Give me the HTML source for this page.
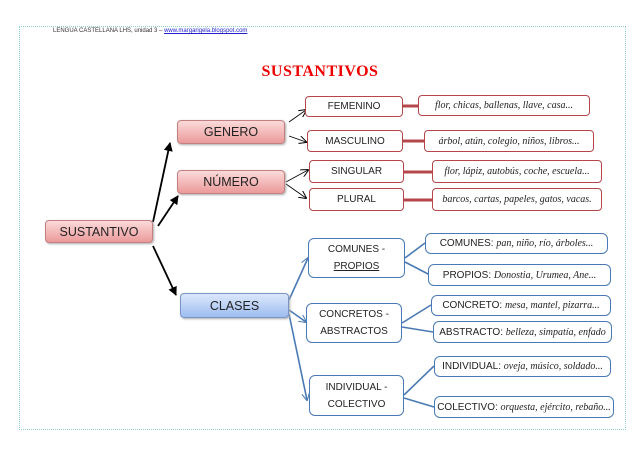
<!DOCTYPE html>
<html><head><meta charset="utf-8"><style>
body{margin:0;width:640px;height:453px;background:#fff;overflow:hidden;position:relative;font-family:"Liberation Sans",sans-serif}
.b{position:absolute;box-sizing:border-box;display:flex;align-items:center;justify-content:center;text-align:center;font-size:10px;color:#222;background:#fff}
.r{border:1.5px solid #b5474b;border-radius:4px}
.u{border:1.5px solid #4a7ab5;border-radius:6px}
.pk{background:linear-gradient(#fcdada,#eb9a9a);border:1px solid #c48080;border-radius:4px;font-size:12.5px;box-shadow:1px 1px 2px #aaa}
.bl{background:linear-gradient(#dce8fb,#9dbcf0);border:1px solid #7895c5;border-radius:4px;font-size:12.5px;box-shadow:1px 1px 2px #aaa}
.s{font-family:"Liberation Serif",serif;font-style:italic;font-size:10px}
</style></head><body>
<div style="position:absolute;left:19px;top:26px;width:605px;height:402px;border:1px dotted #8fd0d0"></div>
<div style="position:absolute;left:53px;top:28px;font-size:6px;color:#333">LENGUA CASTELLANA LHS, unidad 3 – <span style="color:#22c;text-decoration:underline">www.margarigela.blogspot.com</span></div>
<div style="position:absolute;left:0;width:640px;top:63px;text-align:center;font-family:'Liberation Serif',serif;font-weight:900;font-size:16px;color:#e00;letter-spacing:0.5px">SUSTANTIVOS</div>
<svg width="640" height="453" style="position:absolute;left:0;top:0">
<defs><marker id="a" markerWidth="8" markerHeight="8" refX="7" refY="4" orient="auto" markerUnits="userSpaceOnUse"><path d="M0,0 L8,4 L0,8" fill="none" stroke="#000" stroke-width="1"/></marker>
<marker id="ab" markerWidth="8" markerHeight="8" refX="7" refY="4" orient="auto" markerUnits="userSpaceOnUse"><path d="M0,0 L8,4 L0,8" fill="none" stroke="#4a7ab5" stroke-width="1"/></marker>
<marker id="ak" markerWidth="9" markerHeight="9" refX="8" refY="4.5" orient="auto" markerUnits="userSpaceOnUse"><path d="M0,0 L9,4.5 L0,9 Z" fill="#000"/></marker></defs>
<g stroke="#000" stroke-width="1.8" fill="none">
<line x1="153" y1="222" x2="170" y2="143" marker-end="url(#ak)"/>
<line x1="158" y1="226" x2="178" y2="196" marker-end="url(#ak)"/>
<line x1="153" y1="246" x2="176" y2="295" marker-end="url(#ak)"/>
</g>
<g stroke="#000" stroke-width="0.8" fill="none">
<line x1="289" y1="122" x2="306" y2="110" marker-end="url(#a)"/>
<line x1="289" y1="136" x2="306" y2="142" marker-end="url(#a)"/>
<line x1="286" y1="182" x2="308" y2="170" marker-end="url(#a)"/>
<line x1="286" y1="184" x2="306" y2="198" marker-end="url(#a)"/>
</g>
<g stroke="#b5474b" stroke-width="3">
<line x1="403" y1="106" x2="418" y2="106"/><line x1="403" y1="141" x2="424" y2="141"/>
<line x1="404" y1="172" x2="432" y2="172"/><line x1="404" y1="200" x2="432" y2="200"/>
</g>
<g stroke="#4a7ab5" stroke-width="1.6" fill="none">
<line x1="289" y1="300" x2="308" y2="258" marker-end="url(#ab)"/>
<line x1="289" y1="310" x2="306" y2="322" marker-end="url(#ab)"/>
<line x1="289" y1="314" x2="307" y2="400" marker-end="url(#ab)"/>
<line x1="405" y1="258" x2="425" y2="243"/><line x1="405" y1="262" x2="430" y2="275"/>
<line x1="402" y1="323" x2="431" y2="305"/><line x1="402" y1="327" x2="433" y2="332"/>
<line x1="404" y1="395" x2="434" y2="366"/><line x1="404" y1="398" x2="434" y2="407"/>
</g>
</svg>
<div class="b r" style="left:305px;top:96px;width:98px;height:21px">FEMENINO</div>
<div class="b r s" style="left:418px;top:95px;width:172px;height:21px">flor, chicas, ballenas, llave, casa...</div>
<div class="b pk" style="left:177px;top:120px;width:108px;height:24px">GENERO</div>
<div class="b r" style="left:307px;top:130px;width:96px;height:22px">MASCULINO</div>
<div class="b r s" style="left:424px;top:130px;width:170px;height:22px">árbol, atún, colegio, niños, libros...</div>
<div class="b pk" style="left:177px;top:170px;width:108px;height:24px">NÚMERO</div>
<div class="b r" style="left:309px;top:160px;width:95px;height:23px">SINGULAR</div>
<div class="b r s" style="left:432px;top:160px;width:170px;height:23px">flor, lápiz, autobús, coche, escuela...</div>
<div class="b r" style="left:309px;top:188px;width:95px;height:23px">PLURAL</div>
<div class="b r s" style="left:432px;top:188px;width:170px;height:23px">barcos, cartas, papeles, gatos, vacas.</div>
<div class="b pk" style="left:45px;top:220px;width:108px;height:23px">SUSTANTIVO</div>
<div class="b bl" style="left:180px;top:293px;width:109px;height:25px">CLASES</div>
<div class="b u" style="left:308px;top:238px;width:97px;height:40px;line-height:17px"><span>COMUNES -<br><u>PROPIOS</u></span></div>
<div class="b u" style="left:425px;top:233px;width:183px;height:21px"><span>COMUNES: <i class="s">pan, niño, río, árboles...</i></span></div>
<div class="b u" style="left:428px;top:264px;width:183px;height:22px"><span>PROPIOS: <i class="s">Donostia, Urumea, Ane...</i></span></div>
<div class="b u" style="left:306px;top:303px;width:96px;height:40px;line-height:17px"><span>CONCRETOS -<br>ABSTRACTOS</span></div>
<div class="b u" style="left:431px;top:295px;width:180px;height:21px"><span>CONCRETO: <i class="s">mesa, mantel, pizarra...</i></span></div>
<div class="b u" style="left:433px;top:321px;width:179px;height:22px"><span>ABSTRACTO: <i class="s">belleza, simpatía, enfado</i></span></div>
<div class="b u" style="left:309px;top:375px;width:95px;height:41px;line-height:17px"><span>INDIVIDUAL -<br>COLECTIVO</span></div>
<div class="b u" style="left:434px;top:356px;width:177px;height:21px"><span>INDIVIDUAL: <i class="s">oveja, músico, soldado...</i></span></div>
<div class="b u" style="left:434px;top:396px;width:180px;height:22px"><span>COLECTIVO: <i class="s">orquesta, ejército, rebaño...</i></span></div>
</body></html>
